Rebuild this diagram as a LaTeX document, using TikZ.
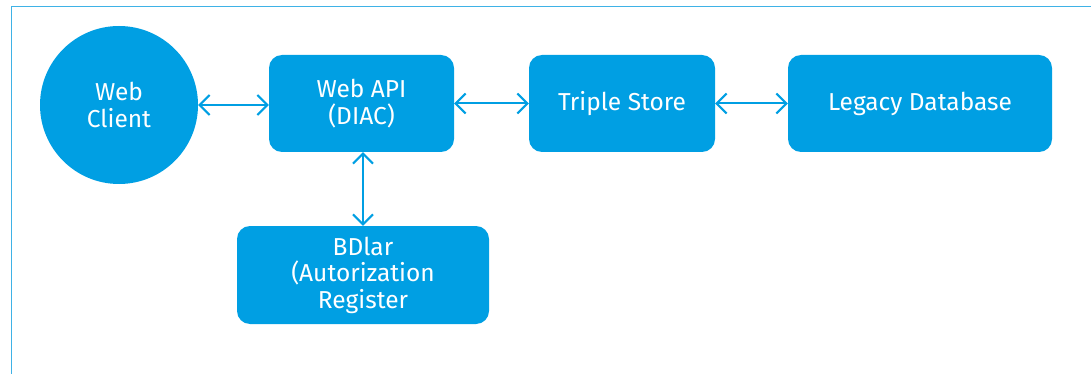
\documentclass[tikz,border=0pt]{standalone}
\usepackage{fontspec}
\setmainfont{Fira Sans}
\usetikzlibrary{arrows.meta}
\definecolor{boxblue}{HTML}{009FE3}
\definecolor{framecol}{HTML}{3FB2E6}
\tikzset{
  blk/.style={fill=boxblue, draw=none, rounded corners=13pt, text=white, align=center,
    font=\fontsize{24.5}{26.5}\selectfont, inner sep=0pt},
  circ/.style={circle, fill=boxblue, draw=none, text=white, align=center,
    font=\fontsize{24.5}{26.5}\selectfont, inner sep=0pt, minimum size=158pt},
  conn/.style={draw=boxblue, line width=2pt, {Straight Barb[length=10pt,width=20pt,line width=2pt]}-{Straight Barb[length=10pt,width=20pt,line width=2pt]}}
}
\begin{document}
\begin{tikzpicture}[x=1pt,y=-1pt]
\useasboundingbox (0,0) rectangle (1091,374);
\draw[framecol, line width=1pt] (11,380) -- (11,6.5) -- (1095,6.5);
\node[circ] (client) at (119,105) {Web\\Client};
\node[blk, minimum width=185pt, minimum height=97pt] (api) at (361.5,103.5) {Web API\\(DIAC)};
\node[blk, minimum width=186pt, minimum height=97pt] (triple) at (622,103.5) {Triple Store};
\node[blk, minimum width=264pt, minimum height=97pt] (legacy) at (920,103.5) {Legacy Database};
\node[blk, minimum width=252pt, minimum height=98pt] (bdlar) at (363,275) {BDlar\\(Autorization\\Register};
\draw[conn] (client.east) -- (client.east -| api.west);
\draw[conn] (api.east) -- (triple.west);
\draw[conn] (triple.east) -- (legacy.west);
\draw[conn] (api.south -| bdlar.north) -- (bdlar.north);
\end{tikzpicture}
\end{document}
